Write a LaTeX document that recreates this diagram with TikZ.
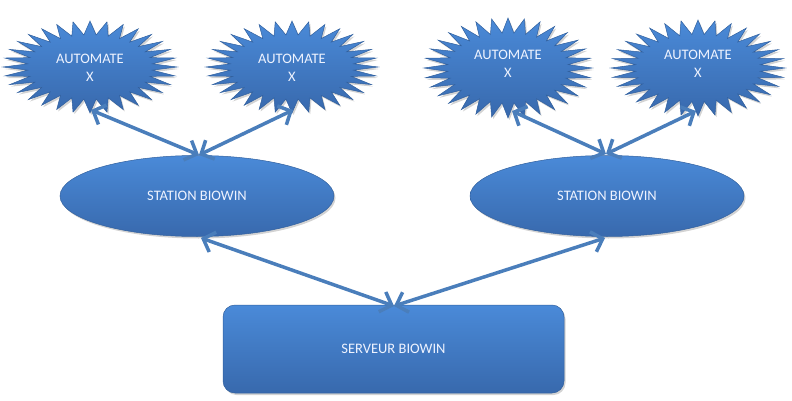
\documentclass[tikz,border=0pt]{standalone}
\usepackage{fontspec}
\setmainfont{Carlito}
\usetikzlibrary{shapes.geometric,arrows.meta,shadows}
\definecolor{ctop}{HTML}{4A8AD8}
\definecolor{cbot}{HTML}{3869AD}
\definecolor{cedge}{HTML}{31609E}
\definecolor{arr}{HTML}{4A7EBB}
\definecolor{txt}{HTML}{EEF3FF}
\tikzset{
  bluefill/.style={top color=ctop, bottom color=cbot, draw=cedge, line width=0.5pt,
    drop shadow={opacity=0.35, shadow xshift=1.5pt, shadow yshift=-2pt}},
  lbl/.style={text=txt, font=\fontsize{14.5}{18}\selectfont, align=center, inner sep=0pt},
  link/.style={draw=arr, line width=3.5pt, line cap=round,
    {Straight Barb[length=10pt,width=21pt]}-{Straight Barb[length=10pt,width=21pt]}}
}
\newcommand\spikystar[4]{%
  \path[bluefill] plot[samples at={0,...,63}, variable=\i]
   ({#1+(mod(\i,2)==0 ? #3 : #3*0.72)*cos(\i*5.625)},
    {#2+(mod(\i,2)==0 ? #4 : #4*0.70)*sin(\i*5.625)}) -- cycle;}
\begin{document}
\begin{tikzpicture}[x=1pt,y=-1pt]
\useasboundingbox (0,0) rectangle (792,401);
% stars
\spikystar{90}{67}{87}{46}
\spikystar{292}{67}{86}{46}
\spikystar{508}{68}{84}{50}
\spikystar{698}{68}{87}{48}
\node[lbl] (a1) at (90,68) {AUTOMATE\\X};
\node[lbl] (a2) at (292,68) {AUTOMATE\\X};
\node[lbl] (a3) at (508,64) {AUTOMATE\\X};
\node[lbl] (a4) at (698,64) {AUTOMATE\\X};
% stations
\node[ellipse, bluefill, minimum width=274, minimum height=81, inner sep=0pt] (s1) at (197,196) {};
\node[lbl] (s1t) at (s1) {STATION BIOWIN};
\node[ellipse, bluefill, minimum width=274, minimum height=81, inner sep=0pt] (s2) at (607,196) {};
\node[lbl] (s2t) at (s2) {STATION BIOWIN};
% server
\node[rectangle, rounded corners=12pt, bluefill, minimum width=341, minimum height=88, inner sep=0pt] (srv) at (393.5,349) {};
\node[lbl] (srvt) at (srv) {SERVEUR BIOWIN};
% arrow end points
\coordinate (a1b) at (91,110);
\coordinate (a2b) at (293,110);
\coordinate (a3b) at (512,111);
\coordinate (a4b) at (696,111);
\coordinate (s1n) at (199,155);
\coordinate (s2n) at (606,154);
\coordinate (s1s) at (201,238);
\coordinate (s2s) at (605,238);
\coordinate (srvn) at (394,306);
\draw[link] (a1b) -- (s1n);
\draw[link] (a2b) -- (s1n);
\draw[link] (a3b) -- (s2n);
\draw[link] (a4b) -- (s2n);
\draw[link] (s1s) -- (srvn);
\draw[link] (s2s) -- (srvn);
\end{tikzpicture}
\end{document}
